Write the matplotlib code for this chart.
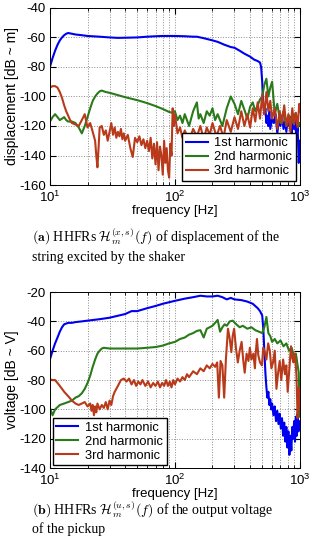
import numpy as np
import matplotlib
matplotlib.use('Agg')
import matplotlib.pyplot as plt

plt.rcParams['font.family'] = ['Liberation Sans', 'DejaVu Sans']
plt.rcParams['mathtext.fontset'] = 'custom'
plt.rcParams['mathtext.rm'] = 'Liberation Sans'
plt.rcParams['axes.unicode_minus'] = False

labels = ['1st harmonic', '2nd harmonic', '3rd harmonic']
colors = ['#0000f0', '#2a7a1a', '#b83a1a']

# ---- (a) displacement ----
f1a = [10, 10.5, 11, 11.5, 12, 12.5, 13, 13.5, 14, 15, 16, 18, 20, 25, 30, 35, 40,
       50, 60, 70, 80, 100, 120, 140, 150, 170, 200, 220, 250, 260, 280, 300, 330, 360,
       400, 430, 460, 480, 490, 500, 505, 510, 520, 530, 540, 550, 560, 570, 580, 600,
       620, 640, 660, 680, 700, 720, 740, 760, 780, 800, 820, 840, 860, 880, 900, 920,
       940, 960, 980, 1000]
d1a = [-80, -74, -69, -65, -62, -60, -58.5, -57.5, -57, -57.5, -58, -58.5, -59, -59.5,
       -60, -60.3, -60.2, -60, -59.5, -59.2, -59, -59, -59.2, -59.5, -59.5, -60.5, -62,
       -63, -65, -65.5, -66.5, -67, -69, -71, -73, -75, -76, -77, -80, -90, -100, -105,
       -112, -108, -118, -113, -120, -110, -122, -115, -118, -112, -125, -116, -120, -113,
       -122, -117, -124, -115, -120, -114, -125, -118, -122, -116, -128, -120, -145, -130]

f2a = [10, 10.5, 11, 11.5, 12, 12.5, 13, 13.5, 14, 15, 16, 17, 18, 19, 20, 21, 22, 23,
       24, 25, 26, 28, 30, 40, 50, 60, 70, 80, 90, 95, 100, 105, 110, 115, 120, 130, 140,
       150, 155, 160, 170, 180, 190, 200, 210, 220, 240, 260, 280, 300, 320, 340, 360,
       380, 400, 420, 440, 460, 480, 500, 520, 540, 560, 580, 600, 630, 660, 700, 740,
       780, 820, 860, 900, 940, 980, 1000]
d2a = [-117, -114, -112, -114, -116, -115, -114, -116, -117, -117, -118, -121, -125,
       -120, -114, -108, -103, -100, -98, -96.5, -96, -97, -97.5, -100.5, -102.5, -104.5,
       -106.5, -108.5, -110.5, -111, -110, -116, -113, -118, -112, -120, -110, -104, -115,
       -112, -118, -110, -113, -108, -116, -112, -120, -108, -100, -105, -112, -103, -109,
       -115, -107, -104, -110, -106, -102, -100, -92, -88, -100, -94, -90, -112, -105,
       -118, -110, -120, -113, -118, -112, -116, -120, -118]

f3a = [10, 10.5, 11, 11.5, 12, 12.5, 13, 13.5, 14, 14.5, 15, 16, 17, 18, 19, 20, 21, 22,
       23, 23.5, 24, 24.5, 25, 26, 27, 28, 29, 30, 31, 32, 33, 34, 35, 36, 37, 38, 39, 40,
       42, 44, 46, 48, 50, 52, 54, 56, 58, 60, 62, 64, 66, 68, 70, 72, 74, 76, 78, 80, 82,
       84, 86, 88, 90, 92, 94, 96, 98, 100, 105, 110, 115, 120, 130, 140, 150, 160, 170,
       180, 190, 200, 215, 230, 245, 260, 280, 300, 320, 340, 360, 380, 400, 420, 440,
       460, 480, 500, 520, 540, 560, 580, 600, 630, 660, 690, 720, 750, 780, 810, 840,
       870, 900, 930, 960, 990, 1000]
d3a = [-94, -93, -93, -94, -97, -101, -106, -110, -113, -116,
       -118, -119, -120, -116, -112, -121, -118, -124, -130, -140,
       -148, -135, -121, -120, -126, -123, -130, -124, -118, -126,
       -121, -128, -124, -127, -122, -129, -125, -130, -126, -135,
       -141, -128, -131, -127, -133, -129, -135, -130, -137, -128,
       -142, -132, -146, -131, -150, -134, -140, -153, -130, -145,
       -135, -150, -155, -132, -140, -108, -120, -112, -125, -121,
       -128, -123, -130, -122, -127, -120, -129, -121, -126, -118,
       -127, -120, -128, -116, -124, -114, -122, -110, -120, -112,
       -121, -108, -117, -104, -115, -99, -112, -97, -110, -103,
       -115, -108, -122, -110, -118, -106, -120, -112, -124, -108,
       -119, -111, -121, -105, -110]

# ---- (b) voltage ----
f1b = [10, 10.5, 11, 11.5, 12, 12.5, 13, 14, 15, 16, 18, 20, 25, 30, 40, 45, 50, 60,
       70, 80, 100, 120, 140, 160, 180, 200, 220, 240, 260, 280, 300, 340, 380, 420, 460,
       480, 500, 510, 520, 530, 540, 550, 560, 570, 580, 590, 600, 615, 630, 645, 660,
       675, 690, 705, 720, 735, 750, 765, 780, 795, 810, 825, 840, 855, 870, 885, 900,
       915, 930, 945, 960, 975, 990, 1000]
v1b = [-66, -60, -55, -51, -47, -44, -42, -41, -41, -40.5,
       -40, -39.5, -38.5, -37.5, -35, -33, -33, -31, -29.5, -28,
       -26, -24.5, -23.5, -22.5, -23, -23, -22.5, -23.5, -25, -24,
       -25, -25.5, -26.5, -28, -31, -33, -36, -45, -60, -75,
       -85, -92, -88, -97, -93, -100, -96, -104, -98, -108,
       -101, -110, -103, -113, -106, -118, -109, -122, -112, -126,
       -115, -131, -118, -128, -112, -120, -108, -122, -105, -118,
       -103, -115, -108, -110]

f2b = [10, 10.5, 11, 12, 13, 14, 15, 16, 17, 18, 19, 20, 21, 22, 23, 24, 25, 26, 27, 30,
       40, 50, 60, 70, 80, 90, 100, 110, 120, 130, 140, 150, 160, 170, 180, 190, 200,
       210, 220, 230, 240, 250, 260, 275, 290, 310, 330, 350, 380, 410, 440, 470, 500,
       520, 540, 560, 580, 600, 630, 660, 700, 740, 780, 820, 860, 900, 930, 960, 980,
       1000]
v2b = [-99, -104, -100, -97, -96, -95, -94, -92, -91, -89,
       -86, -82, -77, -71, -66, -62, -60, -58.5, -58, -58.5,
       -58.5, -58.5, -58, -57.5, -56.5, -55, -54, -52, -51, -49,
       -48, -46.5, -46, -51, -45, -44, -43, -41, -39, -47,
       -44, -42, -43, -40, -39.5, -42, -44, -43, -45, -44,
       -46, -47, -48, -44, -37, -48, -50, -54, -52, -55,
       -53, -57, -55, -60, -58, -64, -62, -70, -75, -105]

f3b = [10, 10.5, 11, 11.5, 12, 12.5, 13, 14, 15, 16, 17, 18, 19, 20, 21, 21.5, 22, 22.5,
       23, 23.5, 24, 25, 26, 27, 28, 29, 30, 31, 32, 33, 35, 37, 39, 41, 43, 45, 47, 49,
       51, 53, 55, 58, 61, 64, 67, 70, 73, 76, 79, 82, 85, 88, 91, 94, 97, 100, 105, 110,
       115, 120, 125, 130, 140, 150, 160, 170, 180, 190, 200, 210, 218, 225, 232, 240,
       248, 256, 266, 275, 283, 290, 298, 308, 319, 330, 342, 352, 362, 375, 388, 398,
       410, 425, 437, 445, 454, 465, 480, 497, 510, 524, 540, 558, 575, 592, 610, 630,
       650, 670, 690, 710, 735, 760, 780, 800, 825, 850, 870, 890, 915, 940, 960, 980,
       1000]
v3b = [-79.5, -80, -80, -82, -84, -86, -88, -91, -94, -96,
       -97, -96, -95, -98, -96, -101, -97, -104, -98, -102,
       -96, -100, -97, -99, -95, -100, -94, -97, -91, -88,
       -84, -80, -79, -81, -79, -83, -80, -84, -81, -83,
       -80, -84, -81, -85, -82, -84, -81, -85, -82, -84,
       -80, -84, -81, -85, -80, -83, -79, -81, -78, -80,
       -76, -78, -74, -76, -72, -74, -70, -72, -69, -71,
       -68, -92, -67, -70, -92, -66, -45, -52, -61, -50,
       -45, -58, -68, -60, -54, -66, -75, -62, -67, -58,
       -66, -62, -72, -60, -52, -63, -68, -70, -58, -61,
       -66, -55, -60, -72, -68, -60, -86, -75, -67, -80,
       -66, -76, -70, -88, -72, -57, -65, -68, -62, -77,
       -106, -85, -100]


def style_axes(ax, ylo, yhi):
    ax.set_xscale('log')
    ax.set_xlim(10, 1000)
    ax.set_ylim(ylo, yhi)
    ax.set_yticks(np.arange(ylo, yhi + 1, 20))
    ax.grid(True, which='both', axis='x', linestyle=':', color='0.55', linewidth=0.7)
    ax.grid(True, which='major', axis='y', linestyle=':', color='0.55', linewidth=0.7)
    ax.tick_params(which='both', direction='in', top=True, right=True, labelsize=9.5)
    ax.tick_params(axis='x', pad=3.5)
    ax.tick_params(axis='y', pad=3)
    ax.tick_params(which='major', length=4)
    ax.tick_params(which='minor', length=2)
    for s in ax.spines.values():
        s.set_linewidth(0.7)
    ax.set_xlabel('frequency [Hz]', fontsize=9.5, labelpad=0)


fig = plt.figure(figsize=(3.12, 5.5), dpi=100)

ax1 = fig.add_axes([0.160, 0.6636, 0.801, 0.322])
ax1.plot(f1a, d1a, color=colors[0], lw=1.5, label=labels[0])
ax1.plot(f2a, d2a, color=colors[1], lw=1.5, label=labels[1])
ax1.plot(f3a, d3a, color=colors[2], lw=1.5, label=labels[2])
style_axes(ax1, -160, -40)
ax1.set_ylabel('displacement [dB ~ m]', fontsize=10, labelpad=0)
ax1.legend(loc='lower right', fontsize=9.3, fancybox=False, edgecolor='k', framealpha=1,
           borderaxespad=0.3, handlelength=1.7, labelspacing=0.15, borderpad=0.3,
           handletextpad=0.5)

ax2 = fig.add_axes([0.160, 0.149, 0.801, 0.32])
ax2.plot(f1b, v1b, color=colors[0], lw=1.5, label=labels[0])
ax2.plot(f2b, v2b, color=colors[1], lw=1.5, label=labels[1])
ax2.plot(f3b, v3b, color=colors[2], lw=1.5, label=labels[2])
style_axes(ax2, -140, -20)
ax2.set_ylabel('voltage [dB ~ V]', fontsize=10, labelpad=0)
ax2.legend(loc='lower left', fontsize=9.3, fancybox=False, edgecolor='k', framealpha=1,
           borderaxespad=0.2, handlelength=1.7, labelspacing=0.15, borderpad=0.3,
           handletextpad=0.5)

cap = dict(fontsize=10, family=['Liberation Serif', 'DejaVu Serif'], va='center',
           ha='left', math_fontfamily='cm')
fig.text(0.103, 1 - 237 / 550, r'$\mathbf{(a)}$ HHFRs $\mathcal{H}_m^{(x,s)}(f)$ of displacement of the', **cap)
fig.text(0.103, 1 - 257 / 550, 'string excited by the shaker', **cap)
fig.text(0.103, 1 - 510 / 550, r'$\mathbf{(b)}$ HHFRs $\mathcal{H}_m^{(u,s)}(f)$ of the output voltage', **cap)
fig.text(0.103, 1 - 529 / 550, 'of the pickup', **cap)

fig.savefig('out.png', dpi=100)
